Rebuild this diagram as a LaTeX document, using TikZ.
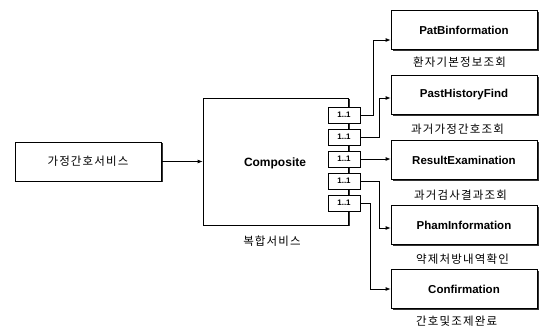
\documentclass[tikz,border=0pt]{standalone}
\usepackage{fontspec}
\setmainfont{Liberation Sans}
\newfontfamily\kr[LetterSpace=10]{Noto Sans CJK KR}
\usetikzlibrary{arrows.meta,shadows}
\tikzset{
  box/.style={draw=black, line width=0.8pt, fill=white, rectangle, inner sep=0pt,
    drop shadow={shadow xshift=1.5pt, shadow yshift=-1.5pt, fill=black!80, opacity=1}},
  svc/.style={box, minimum width=146pt, minimum height=39pt, font=\bfseries\fontsize{11.5}{13}\selectfont},
  port/.style={draw=black, line width=0.8pt, fill=white, rectangle, inner sep=0pt,
    minimum width=32pt, minimum height=16pt, font=\bfseries\fontsize{8}{9}\selectfont},
  lbl/.style={font=\kr\fontsize{11.5}{13}\selectfont, inner sep=0pt},
  arr/.style={line width=0.8pt, -{Latex[length=5pt,width=4pt]}},
  conn/.style={line width=0.8pt}
}
\begin{document}
\begin{tikzpicture}[x=1pt,y=-1pt]
\useasboundingbox (0,0) rectangle (544,334);
% source
\node[box, minimum width=146pt, minimum height=39pt, font=\kr\fontsize{11.5}{13}\selectfont] (src) at (88,161.5) {가정간호서비스};
% composite
\node[box, minimum width=145pt, minimum height=127pt] (comp) at (275.5,161.5) {};
\node[font=\bfseries\fontsize{12}{14}\selectfont] (comptxt) at (275,163) {Composite};
\node[lbl] (complbl) at (272,241) {복합서비스};
% ports
\node[port] (p1) at (344,115) {1..1};
\node[port] (p2) at (344,137) {1..1};
\node[port] (p3) at (344,159) {1..1};
\node[port] (p4) at (344,181) {1..1};
\node[port] (p5) at (344,203) {1..1};
% services
\node[svc] (s1) at (464,30) {PatBinformation};
\node[svc] (s2) at (464,95) {PastHistoryFind};
\node[svc] (s3) at (464,160) {ResultExamination};
\node[svc] (s4) at (464,225) {PhamInformation};
\node[svc] (s5) at (464,289) {Confirmation};
% labels
\node[lbl, anchor=west] (l1) at (413,62) {환자기본정보조회};
\node[lbl, anchor=west] (l2) at (411,129) {과거가정간호조회};
\node[lbl, anchor=west] (l3) at (414,195) {과거검사결과조회};
\node[lbl, anchor=west] (l4) at (416,259) {약제처방내역확인};
\node[lbl, anchor=west] (l5) at (416,321) {간호및조제완료};
% connectors
\draw[arr] (src.east) -- (src.east -| comp.west);
\draw[arr] (p1.east) -- ++(13,0) |- ([yshift=-10pt]s1.west);
\draw[arr] (p2.east) -- ++(19,0) |- ([yshift=-3pt]s2.west);
\draw[arr] (p3.east) -- (p3.east -| s3.west);
\draw[arr] (p4.east) -- ++(19,0) |- ([yshift=-3pt]s4.west);
\draw[arr] (p5.east) -- ++(10,0) |- (s5.west);
\end{tikzpicture}
\end{document}
